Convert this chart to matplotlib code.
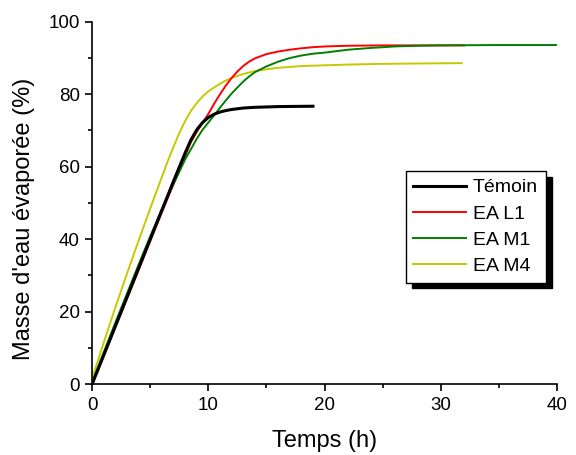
import matplotlib
matplotlib.use("Agg")
import matplotlib.pyplot as plt
from matplotlib.ticker import MultipleLocator

plt.rcParams['font.family'] = ['Liberation Sans', 'DejaVu Sans']

# Témoin
x_temoin = [0, 1, 2, 3, 4, 5, 6, 7, 8, 8.5, 9, 9.5, 10, 10.5, 11, 11.5, 12, 13, 14, 16, 19]
y_temoin = [0, 8, 16, 24, 32, 40, 48, 56, 63.8, 67.4, 70.2, 72.2, 73.6, 74.5, 75.1, 75.5, 75.8, 76.2,
            76.4, 76.6, 76.7]
# EA L1
x_l1 = [0, 1, 2, 3, 4, 5, 6, 7, 8, 8.5, 9, 9.5, 10, 10.5, 11, 11.5, 12, 12.5, 13, 13.5, 14, 15, 16,
        17, 18, 19, 20, 22, 25, 28, 32]
y_l1 = [0, 7.8, 15.7, 23.6, 31.5, 39.5, 47.4, 55.2, 63, 66.8, 69.6, 72.1, 74.6, 77.4, 80, 82.4, 84.5,
        86.3, 87.8, 89.0, 89.9, 91.1, 91.8, 92.3, 92.7, 93, 93.2, 93.4, 93.5, 93.5, 93.5]
# EA M1
x_m1 = [0, 1, 2, 3, 4, 5, 6, 7, 8, 9, 9.5, 10, 10.5, 11, 11.5, 12, 12.5, 13, 13.5, 14, 15, 16, 17,
        18, 19, 20, 21, 22, 24, 26, 28, 30, 35, 40]
y_m1 = [0.5, 8.8, 17, 25, 33, 40.8, 48.3, 55.2, 62, 67.7, 70.2, 72.2, 74.2, 76.3, 78.3, 80.2, 81.9,
        83.5, 84.9, 86.1, 87.7, 89, 90, 90.7, 91.2, 91.5, 91.9, 92.3, 92.8, 93.2, 93.4, 93.5, 93.6, 93.6]
# EA M4
x_m4 = [0, 1, 2, 3, 4, 5, 6, 6.5, 7, 7.5, 8, 8.5, 9, 9.5, 10, 10.5, 11, 11.5, 12, 13, 14, 15, 16,
        18, 20, 22, 25, 28, 31.8]
y_m4 = [1.5, 11.5, 21.2, 30.5, 39.6, 48.5, 57.2, 61.5, 65.5, 69.3, 72.6, 75.4, 77.6, 79.4, 80.8,
        81.9, 82.9, 83.8, 84.5, 85.6, 86.4, 86.9, 87.3, 87.8, 88.0, 88.2, 88.4, 88.5, 88.6]

fig = plt.figure(figsize=(5.76, 4.55), dpi=100)
ax = fig.add_axes([0.16, 0.156, 0.807, 0.796])

ax.plot(x_temoin, y_temoin, color='black', lw=2.2, label='Témoin', zorder=5)
ax.plot(x_l1, y_l1, color='#ff0000', lw=1.4, label='EA L1', zorder=3)
ax.plot(x_m1, y_m1, color='#008000', lw=1.4, label='EA M1', zorder=4)
ax.plot(x_m4, y_m4, color='#c8c800', lw=1.4, label='EA M4', zorder=2)

ax.set_xlim(0, 40)
ax.set_ylim(0, 100)
ax.xaxis.set_major_locator(MultipleLocator(10))
ax.xaxis.set_minor_locator(MultipleLocator(5))
ax.yaxis.set_major_locator(MultipleLocator(20))
ax.yaxis.set_minor_locator(MultipleLocator(10))
for s in ['top', 'right']:
    ax.spines[s].set_visible(False)
for s in ['left', 'bottom']:
    ax.spines[s].set_linewidth(1.2)
ax.tick_params(which='major', direction='out', length=5, width=1.2, labelsize=13.5, pad=4)
ax.tick_params(which='minor', direction='out', length=3, width=1.2)

ax.set_xlabel('Temps (h)', fontsize=17, labelpad=12)
ax.set_ylabel("Masse d'eau évaporée (%)", fontsize=17)
ax.yaxis.set_label_coords(-0.123, 0.456)

leg = ax.legend(loc='upper right', bbox_to_anchor=(0.976, 0.588), borderaxespad=0,
                fontsize=14, frameon=True, fancybox=False, handlelength=2.7,
                handletextpad=0.36, labelspacing=0.44, borderpad=0.4,
                shadow={'color': 'black', 'alpha': 1, 'ox': 4.3, 'oy': -4.0})
leg.get_frame().set_edgecolor('black')
leg.get_frame().set_linewidth(1.0)

fig.savefig('out.png', dpi=100)
